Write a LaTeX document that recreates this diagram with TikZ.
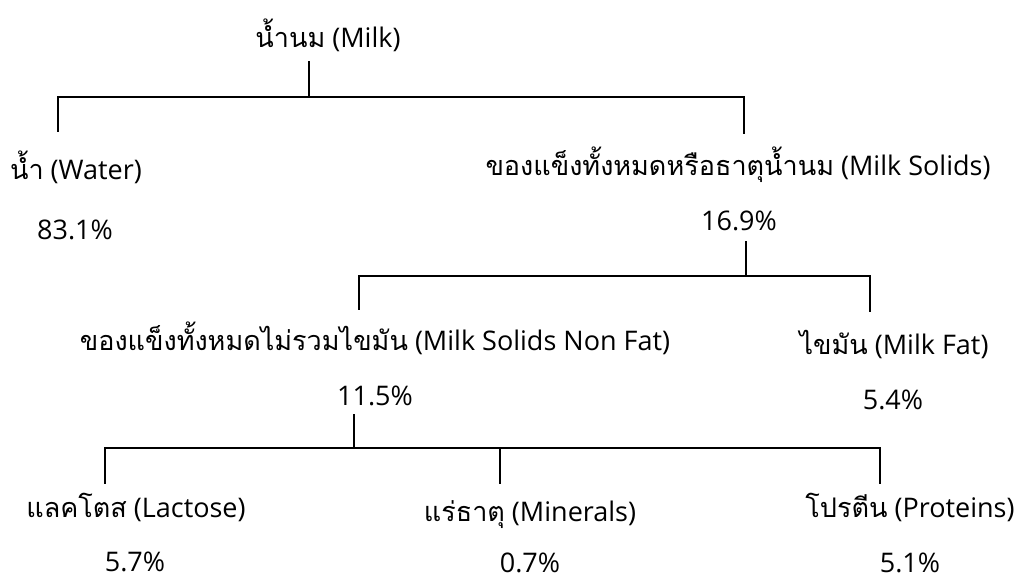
\documentclass[tikz,border=0pt]{standalone}
\usepackage{fontspec}
\setmainfont{Open Sans}
\newfontfamily\thaifont[Script=Thai]{Loma}
\newcommand{\thx}[1]{{\thaifont #1}}
\tikzset{
  lbl/.style={anchor=base, inner sep=0pt, font=\fontsize{27}{32}\selectfont},
  conn/.style={line width=2.3pt, line cap=rect}
}
\begin{document}
\begin{tikzpicture}[x=1pt,y=-1pt]
\useasboundingbox (0,0) rectangle (1016,578);
% labels
\node[lbl] (milk) at (328,48) {\thx{น้ำนม} (Milk)};
\node[lbl] (water) at (76,179) {\thx{น้ำ} (Water)};
\node[lbl] (waterp) at (75,239) {83.1\%};
\node[lbl] (solids) at (738,175) {\thx{ของแข็งทั้งหมดหรือธาตุน้ำนม} (Milk Solids)};
\node[lbl] (solidsp) at (739,230) {16.9\%};
\node[lbl] (snf) at (375,350) {\thx{ของแข็งทั้งหมดไม่รวมไขมัน} (Milk Solids Non Fat)};
\node[lbl] (snfp) at (375,405) {11.5\%};
\node[lbl] (fat) at (894,354) {\thx{ไขมัน} (Milk Fat)};
\node[lbl] (fatp) at (893,409) {5.4\%};
\node[lbl] (lac) at (136,517) {\thx{แลคโตส} (Lactose)};
\node[lbl] (lacp) at (135,571) {5.7\%};
\node[lbl] (min) at (530,521) {\thx{แร่ธาตุ} (Minerals)};
\node[lbl] (minp) at (530,572) {0.7\%};
\node[lbl] (pro) at (910,517) {\thx{โปรตีน} (Proteins)};
\node[lbl] (prop) at (910,572) {5.1\%};
% connector coordinates
\coordinate (t1) at (309,62);
\coordinate (b1) at (0,97);
\coordinate (c1a) at (58,131);
\coordinate (c1b) at (744,133);
\coordinate (t2) at (746,242);
\coordinate (b2) at (0,276);
\coordinate (c2a) at (359,309);
\coordinate (c2b) at (870,311);
\coordinate (t3) at (354,415);
\coordinate (b3) at (0,448);
\coordinate (c3a) at (105,483);
\coordinate (c3b) at (500,483);
\coordinate (c3c) at (880,483);
% connectors
\draw[conn] (t1) -- (t1 |- b1);
\draw[conn] (c1a) -- (c1a |- b1) -- (c1b |- b1) -- (c1b);
\draw[conn] (t2) -- (t2 |- b2);
\draw[conn] (c2a) -- (c2a |- b2) -- (c2b |- b2) -- (c2b);
\draw[conn] (t3) -- (t3 |- b3);
\draw[conn] (c3a) -- (c3a |- b3) -- (c3c |- b3) -- (c3c);
\draw[conn] (c3b |- b3) -- (c3b);
\end{tikzpicture}
\end{document}
